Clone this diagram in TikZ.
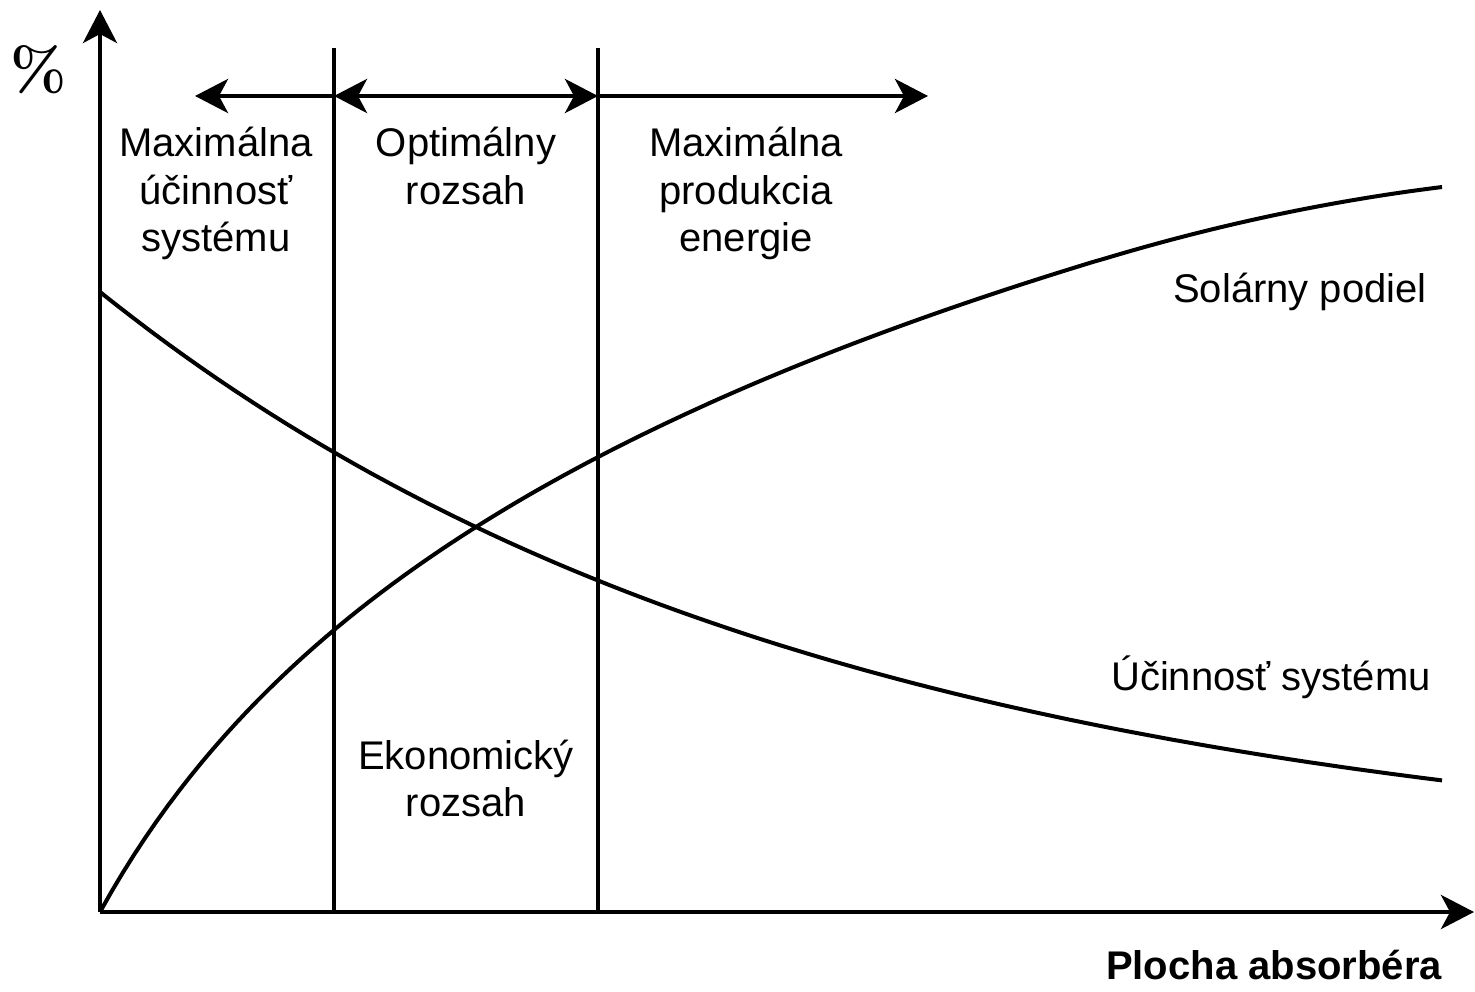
\documentclass[tikz,border=0pt]{standalone}
\usepackage{fontspec}
\newfontfamily\arialf{Liberation Sans}
\usetikzlibrary{arrows.meta}
\tikzset{
  lbl/.style={font=\arialf\fontsize{40}{47.5}\selectfont, align=center, inner sep=0pt, anchor=base},
  axis/.style={line width=4.4pt, -{Stealth[length=33pt,width=34pt,inset=9pt]}},
  divline/.style={line width=4.4pt},
  rangearrow/.style={line width=4.4pt, -{Stealth[length=33pt,width=34pt,inset=9pt]}},
  rangearrow2/.style={line width=4.4pt, {Stealth[length=33pt,width=34pt,inset=9pt]}-{Stealth[length=33pt,width=34pt,inset=9pt]}},
  curve/.style={line width=4pt}
}
\begin{document}
\begin{tikzpicture}[x=1pt,y=-1pt]
\useasboundingbox (0,0) rectangle (1475,992);
% coordinates
\coordinate (O) at (100,912);
\coordinate (Ytop) at (100,10);
\coordinate (Xend) at (1474,912);
\coordinate (L1top) at (334,48);
\coordinate (L1bot) at (334,912);
\coordinate (L2top) at (598,48);
\coordinate (L2bot) at (598,912);
\coordinate (A1) at (334,96);
\coordinate (A2) at (598,96);
\coordinate (Aleft) at (195,96);
\coordinate (Aright) at (928,96);
% axes
\draw[axis] (O) -- (Ytop);
\draw[axis] (O) -- (Xend);
% divider lines
\draw[divline] (L1top) -- (L1bot);
\draw[divline] (L2top) -- (L2bot);
% range arrows
\draw[rangearrow] (A1) -- (Aleft);
\draw[rangearrow2] (A1) -- (A2);
\draw[rangearrow] (A2) -- (Aright);
% curves
\draw[curve] plot[domain=100:1442, samples=120]
  (\x, {912 - (\x<=1100 ? 364*ln(1+(\x-100)/200) : 652+0.303*(\x-1100)-((\x-1100)*0.016186)^2)});
\draw[curve] plot[domain=100:1442, samples=80] (\x, {870-578*exp(-(\x-100)/720)});
% labels
\node (pct) at (39,70) {\bfseries\fontsize{60}{62}\selectfont\%};
\node[lbl] (t1) at (216,252) {Maximálna\\účinnosť\\systému};
\node[lbl] (t2) at (466,204.5) {Optimálny\\rozsah};
\node[lbl] (t3) at (746,252) {Maximálna\\produkcia\\energie};
\node[lbl] (t4) at (1300,302) {Solárny podiel};
\node[lbl] (t5) at (1271,690) {Účinnosť systému};
\node[lbl] (t6) at (466,816.5) {Ekonomický\\rozsah};
\node[lbl, font=\arialf\bfseries\fontsize{40}{47.5}\selectfont] (t7) at (1274,979) {Plocha absorbéra};
\end{tikzpicture}
\end{document}
